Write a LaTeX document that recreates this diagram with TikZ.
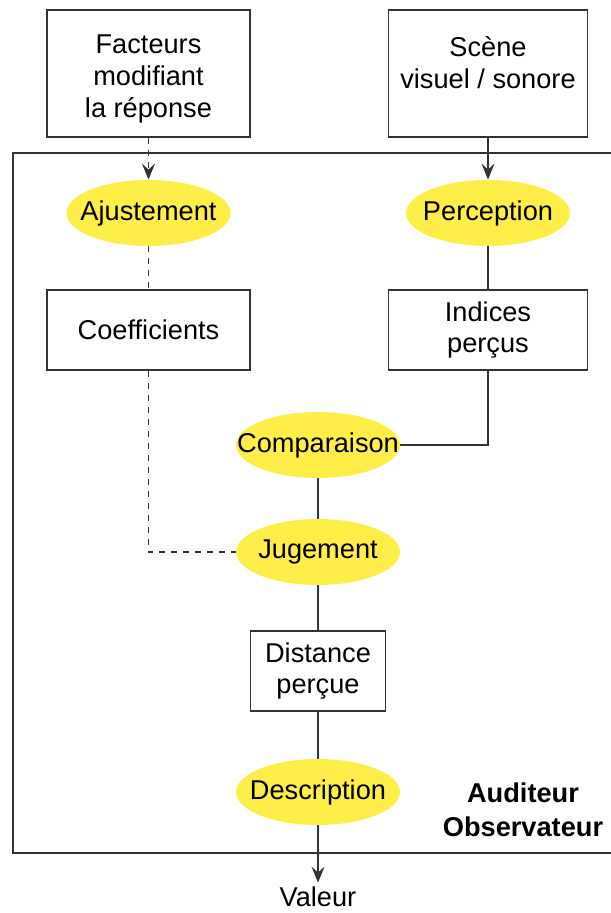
\documentclass[tikz,border=0pt]{standalone}
\usepackage{fontspec}
\setmainfont{Liberation Sans}
\usetikzlibrary{arrows.meta,shapes.geometric}
\definecolor{jaune}{HTML}{FFEE48}
\definecolor{trait}{HTML}{333333}
\newcommand{\haut}{\rule{0pt}{15pt}}
\tikzset{
	boite/.style={draw=trait, line width=0.65pt, rectangle, align=center, inner sep=0pt},
	entree/.style={boite, minimum height=63.5pt, font=\fontsize{13.6}{16}\selectfont},
	bulle/.style={ellipse, fill=jaune, minimum width=82pt, minimum height=33pt,
		inner xsep=-20pt, inner ysep=0pt},
	lien/.style={draw=trait, line width=0.65pt},
	pointille/.style={lien, dash pattern=on 3pt off 3pt},
	fleche/.style={-{Stealth[length=8pt, width=6.5pt, inset=3pt]}},
}
\begin{document}
\begin{tikzpicture}[x=0.5pt, y=-0.5pt, font=\fontsize{13.6}{15.2}\selectfont]
	\useasboundingbox (0,0) rectangle (610,913);
	% Entrees
	\node[entree, minimum width=101.5pt] (facteurs) at (148.5,73.5) {\haut Facteurs\\modifiant\\la réponse};
	\node[entree, minimum width=99.5pt] (scene) at (488,73.5) {\haut Scène\\visuel / sonore\\~};
	% Cadre auditeur
	\draw[lien] (13,153) rectangle (630,853);
	\node[font=\fontsize{13.6}{17}\selectfont\bfseries, align=center] (auditeur) at (523,810)
		{Auditeur\\Observateur};
	% Etapes
	\node[bulle] (ajust) at (148.5,213) {Ajustement};
	\node[bulle] (percep) at (488,213) {Perception};
	\node[boite, minimum width=101.5pt, minimum height=40pt] (coef) at (148.5,330) {Coefficients};
	\node[boite, minimum width=99.5pt, minimum height=40pt] (indices) at (488,330) {Indices\\perçus};
	\node[bulle] (compar) at (318,445) {Comparaison};
	\node[bulle] (jugement) at (318,552) {Jugement};
	\node[boite, minimum width=67.5pt, minimum height=40pt] (distance) at (318,671) {Distance\\perçue};
	\node[bulle] (descr) at (318,792) {Description};
	\node[inner sep=2pt] (valeur) at (318,897) {Valeur};
	% Liaisons
	\draw[pointille, fleche] (facteurs) -- (ajust);
	\draw[pointille] (ajust) -- (coef);
	\draw[pointille] (coef.south) |- (jugement.west);
	\draw[lien, fleche] (scene) -- (percep);
	\draw[lien] (percep) -- (indices);
	\draw[lien] (indices.south) |- (compar.east);
	\draw[lien] (compar) -- (jugement);
	\draw[lien] (jugement) -- (distance);
	\draw[lien] (distance) -- (descr);
	\draw[lien, fleche] (descr) -- (valeur);
\end{tikzpicture}
\end{document}
